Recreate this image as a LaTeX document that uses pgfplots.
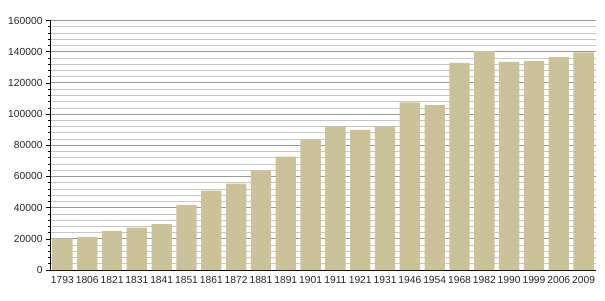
\documentclass[border=0pt]{standalone}
\usepackage{pgfplots}
\pgfplotsset{compat=1.18}
\usepackage{fontspec}
\setmainfont{Liberation Sans}
\definecolor{barc}{RGB}{204,194,154}
\begin{document}
\begin{tikzpicture}[x=1bp,y=1bp]
\path[use as bounding box] (0,0) rectangle (605,300);
\begin{axis}[
  at={(50bp,30bp)}, anchor=south west,
  scale only axis, width=546bp, height=249.5bp,
  xmin=-0.5, xmax=21.5, ymin=0, ymax=160000,
  axis x line*=bottom, axis y line*=left,
  axis line style={black, line width=0.8pt},
  xtick={0,...,21},
  xticklabels={1793,1806,1821,1831,1841,1851,1861,1872,1881,1891,1901,1911,1921,1931,1946,1954,1968,1982,1990,1999,2006,2009},
  x tick style={draw=none},
  ytick={0,20000,40000,60000,80000,100000,120000,140000,160000},
  yticklabels={0,20000,40000,60000,80000,100000,120000,140000,160000},
  minor y tick num=4,
  tick align=outside,
  major tick length=4bp, minor tick length=2.5bp,
  y tick style={black, line width=0.6pt},
  ymajorgrids, yminorgrids,
  major grid style={gray!80, line width=0.8pt},
  minor grid style={gray!45, line width=0.6pt},
  scaled y ticks=false,
  ticklabel style={font=\fontsize{10.3}{12}\selectfont, text=black!85},
  xticklabel style={yshift=1bp},
  ybar, bar width=0.82,
]
\addplot[fill=barc, draw=none] coordinates {
(0,20300) (1,21200) (2,25000) (3,27100) (4,29500) (5,41700) (6,50900) (7,55400)
(8,63900) (9,72700) (10,83600) (11,92300) (12,89800) (13,92300) (14,107500)
(15,105800) (16,132900) (17,140400) (18,133400) (19,134000) (20,136600) (21,139600)};
\end{axis}
\end{tikzpicture}
\end{document}
